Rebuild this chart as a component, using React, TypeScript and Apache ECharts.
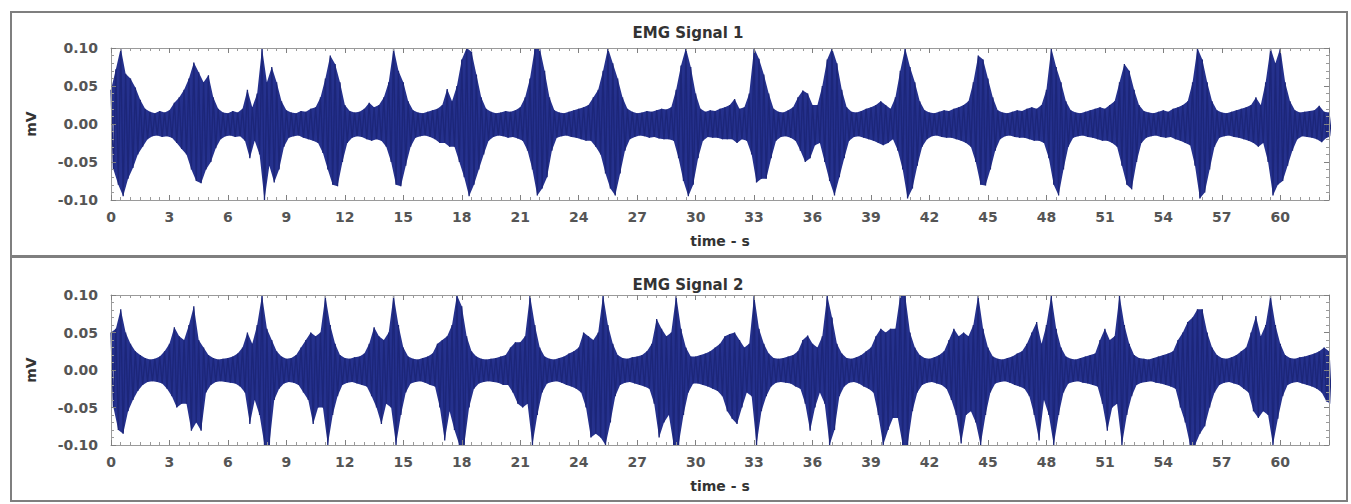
import React, { useEffect, useRef } from "react";
import * as echarts from "echarts";

// Sampling step of the envelope readings (seconds)
const STEP_S = 0.25;
const X_TICKS = [0, 3, 6, 9, 12, 15, 18, 21, 24, 27, 30, 33, 36, 39, 42, 45, 48, 51, 54, 57, 60];
const Y_TICKS = [-0.1, -0.05, 0, 0.05, 0.1];
const TITLES = ["EMG Signal 1", "EMG Signal 2"];

// Upper / lower excursions of the EMG traces, in µV, one reading every 0.25 s (0 … 62.5 s)
const SIGNAL1_HI_UV = [
  45, 72, 100, 66, 60, 48, 32, 20, 16, 14, 17, 15,
  18, 28, 35, 45, 60, 81, 68, 55, 64, 35, 20, 15,
  14, 17, 15, 20, 45, 22, 40, 100, 55, 75, 55, 30,
  18, 15, 14, 17, 16, 20, 22, 35, 60, 90, 79, 55,
  25, 17, 15, 16, 20, 28, 22, 25, 35, 55, 100, 70,
  55, 30, 18, 15, 14, 16, 18, 20, 25, 46, 30, 50,
  85, 100, 95, 65, 35, 20, 16, 14, 15, 17, 16, 18,
  22, 35, 60, 100, 100, 70, 35, 18, 15, 14, 16, 18,
  20, 22, 25, 35, 45, 70, 100, 80, 60, 35, 20, 16,
  14, 15, 17, 16, 18, 20, 19, 22, 45, 77, 100, 75,
  40, 20, 16, 18, 17, 20, 22, 25, 33, 20, 22, 40,
  100, 86, 65, 40, 20, 16, 15, 18, 22, 35, 44, 40,
  25, 25, 50, 85, 100, 80, 45, 22, 16, 15, 17, 20,
  22, 25, 30, 25, 20, 35, 70, 100, 75, 55, 30, 18,
  15, 14, 16, 18, 17, 20, 22, 25, 30, 55, 90, 85,
  60, 35, 18, 15, 14, 16, 18, 17, 20, 22, 20, 25,
  45, 100, 75, 55, 30, 18, 15, 14, 16, 18, 20, 22,
  20, 25, 30, 55, 79, 70, 45, 25, 17, 15, 14, 16,
  18, 16, 20, 22, 25, 30, 55, 100, 85, 55, 30, 18,
  15, 14, 16, 18, 20, 22, 25, 35, 25, 55, 100, 80,
  100, 55, 30, 18, 15, 16, 17, 18, 24, 16, 15,
];
const SIGNAL1_LO_UV = [
  -60, -80, -95, -72, -58, -40, -30, -20, -16, -15, -17, -16,
  -18, -25, -33, -40, -60, -75, -78, -60, -50, -32, -20, -16,
  -15, -17, -16, -22, -45, -22, -40, -100, -55, -77, -60, -30,
  -18, -16, -15, -18, -20, -22, -25, -38, -60, -80, -82, -50,
  -25, -18, -16, -17, -20, -22, -20, -22, -30, -50, -80, -82,
  -55, -30, -18, -16, -15, -17, -20, -25, -25, -30, -30, -50,
  -70, -95, -80, -60, -40, -22, -17, -15, -16, -18, -17, -19,
  -22, -35, -60, -94, -85, -70, -35, -18, -16, -15, -17, -18,
  -20, -22, -22, -30, -40, -65, -85, -94, -65, -35, -20, -17,
  -15, -16, -18, -17, -19, -20, -20, -22, -45, -75, -95, -80,
  -45, -22, -17, -18, -18, -20, -20, -20, -25, -20, -22, -40,
  -77, -72, -72, -45, -22, -17, -16, -18, -22, -35, -50, -45,
  -28, -25, -50, -75, -94, -70, -45, -22, -17, -16, -18, -20,
  -22, -25, -28, -25, -20, -35, -60, -98, -85, -55, -30, -20,
  -16, -15, -17, -18, -18, -20, -22, -25, -30, -50, -80, -81,
  -60, -35, -20, -16, -15, -17, -18, -18, -20, -22, -22, -25,
  -45, -80, -94, -60, -30, -18, -16, -15, -17, -18, -20, -22,
  -22, -25, -30, -55, -80, -86, -50, -25, -18, -16, -15, -17,
  -18, -17, -20, -22, -25, -28, -55, -98, -90, -60, -30, -18,
  -16, -15, -17, -18, -20, -22, -25, -30, -25, -50, -94, -80,
  -75, -55, -35, -20, -16, -17, -18, -20, -24, -18, -16,
];
const SIGNAL2_HI_UV = [
  50, 55, 81, 50, 35, 25, 20, 16, 14, 15, 18, 25,
  35, 57, 45, 40, 60, 85, 40, 30, 20, 16, 14, 15,
  16, 18, 22, 30, 50, 35, 60, 100, 55, 40, 25, 18,
  15, 16, 20, 30, 40, 50, 45, 50, 99, 60, 35, 20,
  16, 15, 17, 18, 22, 35, 57, 45, 40, 50, 100, 60,
  30, 18, 15, 14, 16, 18, 22, 35, 40, 45, 60, 100,
  85, 45, 25, 18, 15, 14, 15, 16, 18, 20, 30, 37,
  37, 45, 100, 60, 30, 18, 15, 14, 16, 18, 22, 25,
  30, 50, 45, 40, 50, 100, 60, 35, 20, 16, 15, 17,
  18, 20, 25, 35, 68, 55, 45, 50, 100, 55, 30, 18,
  18, 20, 22, 25, 30, 35, 45, 48, 50, 40, 30, 35,
  100, 55, 35, 22, 16, 15, 16, 18, 20, 25, 40, 46,
  35, 30, 45, 100, 70, 35, 22, 16, 15, 17, 20, 25,
  30, 45, 55, 50, 55, 55, 100, 100, 50, 30, 20, 16,
  15, 17, 20, 25, 40, 55, 45, 50, 45, 60, 100, 55,
  30, 18, 15, 14, 16, 18, 22, 25, 35, 50, 64, 35,
  60, 100, 55, 30, 18, 15, 14, 16, 18, 20, 22, 40,
  55, 40, 45, 100, 60, 35, 20, 16, 15, 14, 16, 18,
  20, 22, 25, 40, 50, 64, 70, 81, 81, 50, 30, 20,
  16, 15, 17, 20, 25, 30, 50, 72, 45, 60, 100, 60,
  35, 20, 16, 15, 17, 18, 20, 22, 25, 30, 25,
];
const SIGNAL2_LO_UV = [
  -50, -80, -85, -55, -40, -28, -20, -16, -15, -16, -18, -25,
  -35, -50, -45, -45, -81, -70, -81, -30, -20, -16, -15, -16,
  -17, -18, -22, -30, -72, -40, -60, -100, -100, -40, -25, -18,
  -16, -17, -20, -30, -40, -72, -50, -50, -100, -60, -35, -20,
  -17, -16, -18, -20, -22, -35, -50, -72, -45, -50, -100, -60,
  -30, -18, -16, -15, -17, -20, -22, -50, -94, -55, -80, -100,
  -100, -50, -25, -18, -16, -15, -16, -17, -20, -20, -30, -45,
  -50, -45, -100, -60, -30, -18, -16, -15, -17, -20, -22, -25,
  -30, -50, -90, -85, -90, -100, -70, -35, -20, -17, -16, -18,
  -20, -22, -25, -45, -90, -70, -60, -100, -100, -60, -30, -18,
  -18, -20, -22, -25, -28, -35, -55, -65, -72, -50, -30, -35,
  -100, -55, -35, -22, -17, -16, -17, -18, -22, -25, -45, -81,
  -50, -30, -45, -100, -80, -35, -22, -17, -16, -18, -22, -25,
  -30, -60, -100, -80, -64, -64, -100, -100, -55, -30, -20, -17,
  -16, -18, -20, -25, -40, -60, -98, -60, -55, -70, -100, -60,
  -30, -18, -16, -15, -17, -20, -22, -25, -35, -60, -94, -40,
  -60, -100, -60, -30, -18, -16, -15, -17, -18, -20, -22, -45,
  -81, -50, -45, -100, -60, -35, -20, -17, -16, -15, -17, -18,
  -20, -22, -25, -50, -70, -100, -100, -85, -75, -50, -30, -20,
  -17, -16, -18, -20, -25, -30, -55, -64, -55, -60, -100, -65,
  -35, -20, -17, -16, -18, -20, -22, -25, -30, -42, -45,
];

const SIGNALS = [
  { hi: SIGNAL1_HI_UV, lo: SIGNAL1_LO_UV },
  { hi: SIGNAL2_HI_UV, lo: SIGNAL2_LO_UV },
];

// zig-zag trace: each reading's upper excursion, then its lower excursion half a step later
function toTrace(hi: number[], lo: number[]) {
  const pts: number[][] = [];
  for (let i = 0; i < hi.length; i++) {
    const t = i * STEP_S;
    pts.push([t, hi[i] / 1000]);
    pts.push([t + STEP_S / 2, lo[i] / 1000]);
  }
  return pts;
}
const upperPts = (hi: number[]) => hi.map((v, i) => [i * STEP_S, v / 1000]);
const lowerPts = (lo: number[]) => lo.map((v, i) => [i * STEP_S + STEP_S / 2, v / 1000]);

const FONT = "DejaVu Sans";
const LINE_COLOR = "#1c2679";
const FILL_COLOR = "#25318d";

export default function App() {
  const ref = useRef<HTMLDivElement>(null);

  useEffect(() => {
    if (!ref.current) return;
    const chart = echarts.init(ref.current, null, { renderer: "svg" });

    const grids = [
      { left: 111, top: 48, width: 1218, height: 152 },
      { left: 111, top: 295, width: 1218, height: 150 },
    ];

    const labelStyle = {
      color: "#555",
      fontFamily: FONT,
      fontSize: 14,
      fontWeight: "bold" as const,
    };
    const nameStyle = {
      color: "#333",
      fontFamily: FONT,
      fontSize: 14,
      fontWeight: "bold" as const,
    };
    const axisLine = { show: true, onZero: false, lineStyle: { color: "#9a9a9a", width: 1 } };
    const tick = { show: true, inside: true, length: 5, lineStyle: { color: "#808080" } };

    const xAxes: any[] = [];
    const yAxes: any[] = [];
    const series: any[] = [];

    grids.forEach((_, gi) => {
      xAxes.push(
        {
          gridIndex: gi,
          type: "value",
          position: "bottom",
          min: 0,
          max: 62.5,
          interval: 3,
          axisLine,
          axisTick: tick,
          minorTick: { show: true, splitNumber: 6, length: 3, lineStyle: { color: "#9a9a9a" } },
          splitLine: { show: false },
          axisLabel: {
            ...labelStyle,
            margin: 10,
            showMaxLabel: false,
            formatter: (v: number) => (X_TICKS.includes(v) ? String(v) : ""),
          },
          name: "time - s",
          nameLocation: "middle",
          nameGap: 34,
          nameTextStyle: nameStyle,
          z: 4,
        },
        {
          gridIndex: gi,
          type: "value",
          position: "top",
          min: 0,
          max: 62.5,
          interval: 3,
          axisLine,
          axisTick: tick,
          minorTick: { show: true, splitNumber: 6, length: 3, lineStyle: { color: "#9a9a9a" } },
          splitLine: { show: false },
          axisLabel: { show: false },
          z: 4,
        }
      );
      yAxes.push(
        {
          gridIndex: gi,
          type: "value",
          position: "left",
          min: Y_TICKS[0],
          max: Y_TICKS[Y_TICKS.length - 1],
          interval: 0.05,
          axisLine,
          axisTick: tick,
          minorTick: { show: true, splitNumber: 5, length: 3, lineStyle: { color: "#9a9a9a" } },
          splitLine: { show: false },
          axisLabel: {
            ...labelStyle,
            margin: 13,
            formatter: (v: number) => v.toFixed(2),
          },
          name: "mV",
          nameLocation: "middle",
          nameRotate: 90,
          nameGap: 73,
          nameTextStyle: nameStyle,
          z: 4,
        },
        {
          gridIndex: gi,
          type: "value",
          position: "right",
          min: Y_TICKS[0],
          max: Y_TICKS[Y_TICKS.length - 1],
          interval: 0.05,
          axisLine,
          axisTick: tick,
          minorTick: { show: true, splitNumber: 5, length: 3, lineStyle: { color: "#9a9a9a" } },
          splitLine: { show: false },
          axisLabel: { show: false },
          z: 4,
        }
      );
      const sig = SIGNALS[gi];
      const common = {
        type: "line",
        xAxisIndex: gi * 2,
        yAxisIndex: gi * 2,
        symbol: "none",
        showSymbol: false,
        clip: true,
        silent: true,
      };
      series.push(
        {
          ...common,
          name: TITLES[gi] + " upper envelope",
          data: upperPts(sig.hi),
          lineStyle: { width: 0, opacity: 0 },
          areaStyle: { color: FILL_COLOR, opacity: 1, origin: "auto" },
          z: 2,
        },
        {
          ...common,
          name: TITLES[gi] + " lower envelope",
          data: lowerPts(sig.lo),
          lineStyle: { width: 0, opacity: 0 },
          areaStyle: { color: FILL_COLOR, opacity: 1, origin: "auto" },
          z: 2,
        },
        {
          ...common,
          name: TITLES[gi],
          data: toTrace(sig.hi, sig.lo),
          lineStyle: { color: LINE_COLOR, width: 1.3 },
          z: 3,
        }
      );
    });

    const titleStyle = { color: "#333", fontFamily: FONT, fontSize: 15, fontWeight: "bold" as const };

    chart.setOption({
      animation: false,
      backgroundColor: "#ffffff",
      title: [
        { text: TITLES[0], left: 683, top: 20, textAlign: "center", textStyle: titleStyle },
        { text: TITLES[1], left: 683, top: 272, textAlign: "center", textStyle: titleStyle },
      ],
      grid: grids.map((g) => ({ ...g, show: false, containLabel: false })),
      xAxis: xAxes,
      yAxis: yAxes,
      series,
      graphic: [
        {
          type: "rect",
          silent: true,
          z: 0,
          shape: { x: 11, y: 12, width: 1336, height: 244 },
          style: { fill: "none", stroke: "#7f7f7f", lineWidth: 2 },
        },
        {
          type: "rect",
          silent: true,
          z: 0,
          shape: { x: 11, y: 257, width: 1336, height: 244 },
          style: { fill: "none", stroke: "#7f7f7f", lineWidth: 2 },
        },
      ],
    });

    return () => chart.dispose();
  }, []);

  return (
    <div
      ref={ref}
      style={{ position: "absolute", left: 0, top: 0, width: 1351, height: 504 }}
    />
  );
}
